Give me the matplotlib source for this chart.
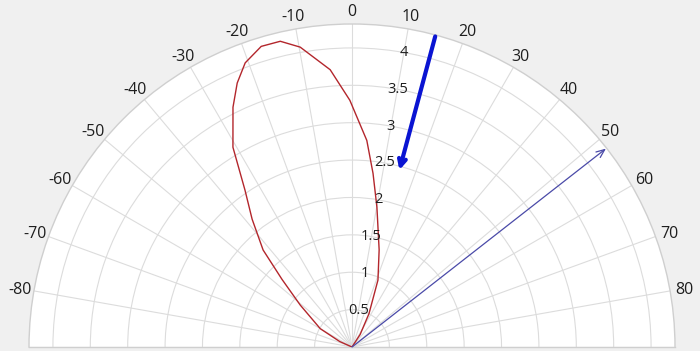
import numpy as np
import matplotlib
matplotlib.use("Agg")
import matplotlib.pyplot as plt

# ---- data ----
lobe_theta_deg = [-68, -66, -60, -51, -46, -42.5, -38, -34.3, -30.8, -26.4, -23.5, -20.6,
                  -16.8, -13.2, -9.8, -4.5, -0.5, 4.1, 6.9, 10.1, 15.6, 21.2, 27, 33, 36]
lobe_r = [0.0, 0.18, 0.49, 0.89, 1.30, 1.76, 2.17, 2.54, 3.11, 3.58, 3.85, 4.06,
          4.20, 4.20, 4.07, 3.72, 3.30, 2.77, 2.34, 1.90, 1.35, 0.96, 0.50, 0.20, 0.0]

main_dir_deg = 15
main_r_start = 4.30
main_r_end = 2.45

ref_dir_deg = 52
ref_r = 4.31

r_max = 4.32
r_ticks = [0.5, 1, 1.5, 2, 2.5, 3, 3.5, 4]
r_tick_labels = ["0.5", "1", "1.5", "2", "2.5", "3", "3.5", "4"]
r_label_angle_deg = 10
theta_ticks_deg = list(range(-90, 91, 10))
theta_tick_labels = ["" if abs(t) == 90 else str(t) for t in theta_ticks_deg]

# ---- figure ----
plt.rcParams['font.family'] = ['Open Sans', 'DejaVu Sans']
W, H = 700.0, 351.0
cx, cy, R = 352.0, 347.0, 323.0
fig = plt.figure(figsize=(W / 100, H / 100), dpi=100, facecolor='#f0f0f0')
box_left = (cx - R) / W
box_bottom = (H - cy - R / 2) / H
ax = fig.add_axes([box_left, box_bottom, 2 * R / W, 2 * R / H], projection='polar')
ax.set_facecolor('white')
ax.set_theta_zero_location('N')
ax.set_theta_direction(-1)
ax.set_thetamin(-90)
ax.set_thetamax(90)
ax.set_rlim(0, r_max)

ax.set_xticks(np.deg2rad(theta_ticks_deg))
ax.set_xticklabels([])
ax.set_yticks(r_ticks)
ax.set_yticklabels([])
ax.tick_params(axis='x', length=0)

# angular labels, centred a fixed distance outside the outer arc
px2pt = 72 / 100
label_off_pt = 14.5 * px2pt
for t, lab in zip(theta_ticks_deg, theta_tick_labels):
    if not lab:
        continue
    a = np.deg2rad(t)
    ax.annotate(lab, xy=(a, r_max),
                xytext=(label_off_pt * np.sin(a), label_off_pt * np.cos(a) - 2 * px2pt),
                textcoords='offset points', ha='center', va='center',
                fontsize=11.5, color='#1e1e1e', annotation_clip=False)

for r, lab in zip(r_ticks, r_tick_labels):
    ax.text(np.deg2rad(r_label_angle_deg), r, lab, fontsize=10.5, color='#1e1e1e',
            ha='center', va='center', zorder=5)

ax.grid(True, color='#dcdcdc', linewidth=0.8)
for name, sp in ax.spines.items():
    sp.set_color('#cfcfcf')
    sp.set_linewidth(1.0)

# lobe
ax.plot(np.deg2rad(lobe_theta_deg), lobe_r, color='#b3262c', linewidth=1.0, zorder=3)

# thick main arrow
ax.annotate('', xy=(np.deg2rad(main_dir_deg), main_r_end),
            xytext=(np.deg2rad(main_dir_deg), main_r_start),
            arrowprops=dict(arrowstyle='->,head_length=0.5,head_width=0.25',
                            color='#0a14d2', lw=3, shrinkA=0, shrinkB=0),
            zorder=4)

# thin reference arrow
ax.annotate('', xy=(np.deg2rad(ref_dir_deg), ref_r),
            xytext=(0, 0),
            arrowprops=dict(arrowstyle='->,head_length=0.6,head_width=0.25',
                            color='#4a4aa8', lw=0.9, shrinkA=0, shrinkB=0),
            zorder=4)

fig.savefig('out.png', dpi=100, facecolor=fig.get_facecolor())
